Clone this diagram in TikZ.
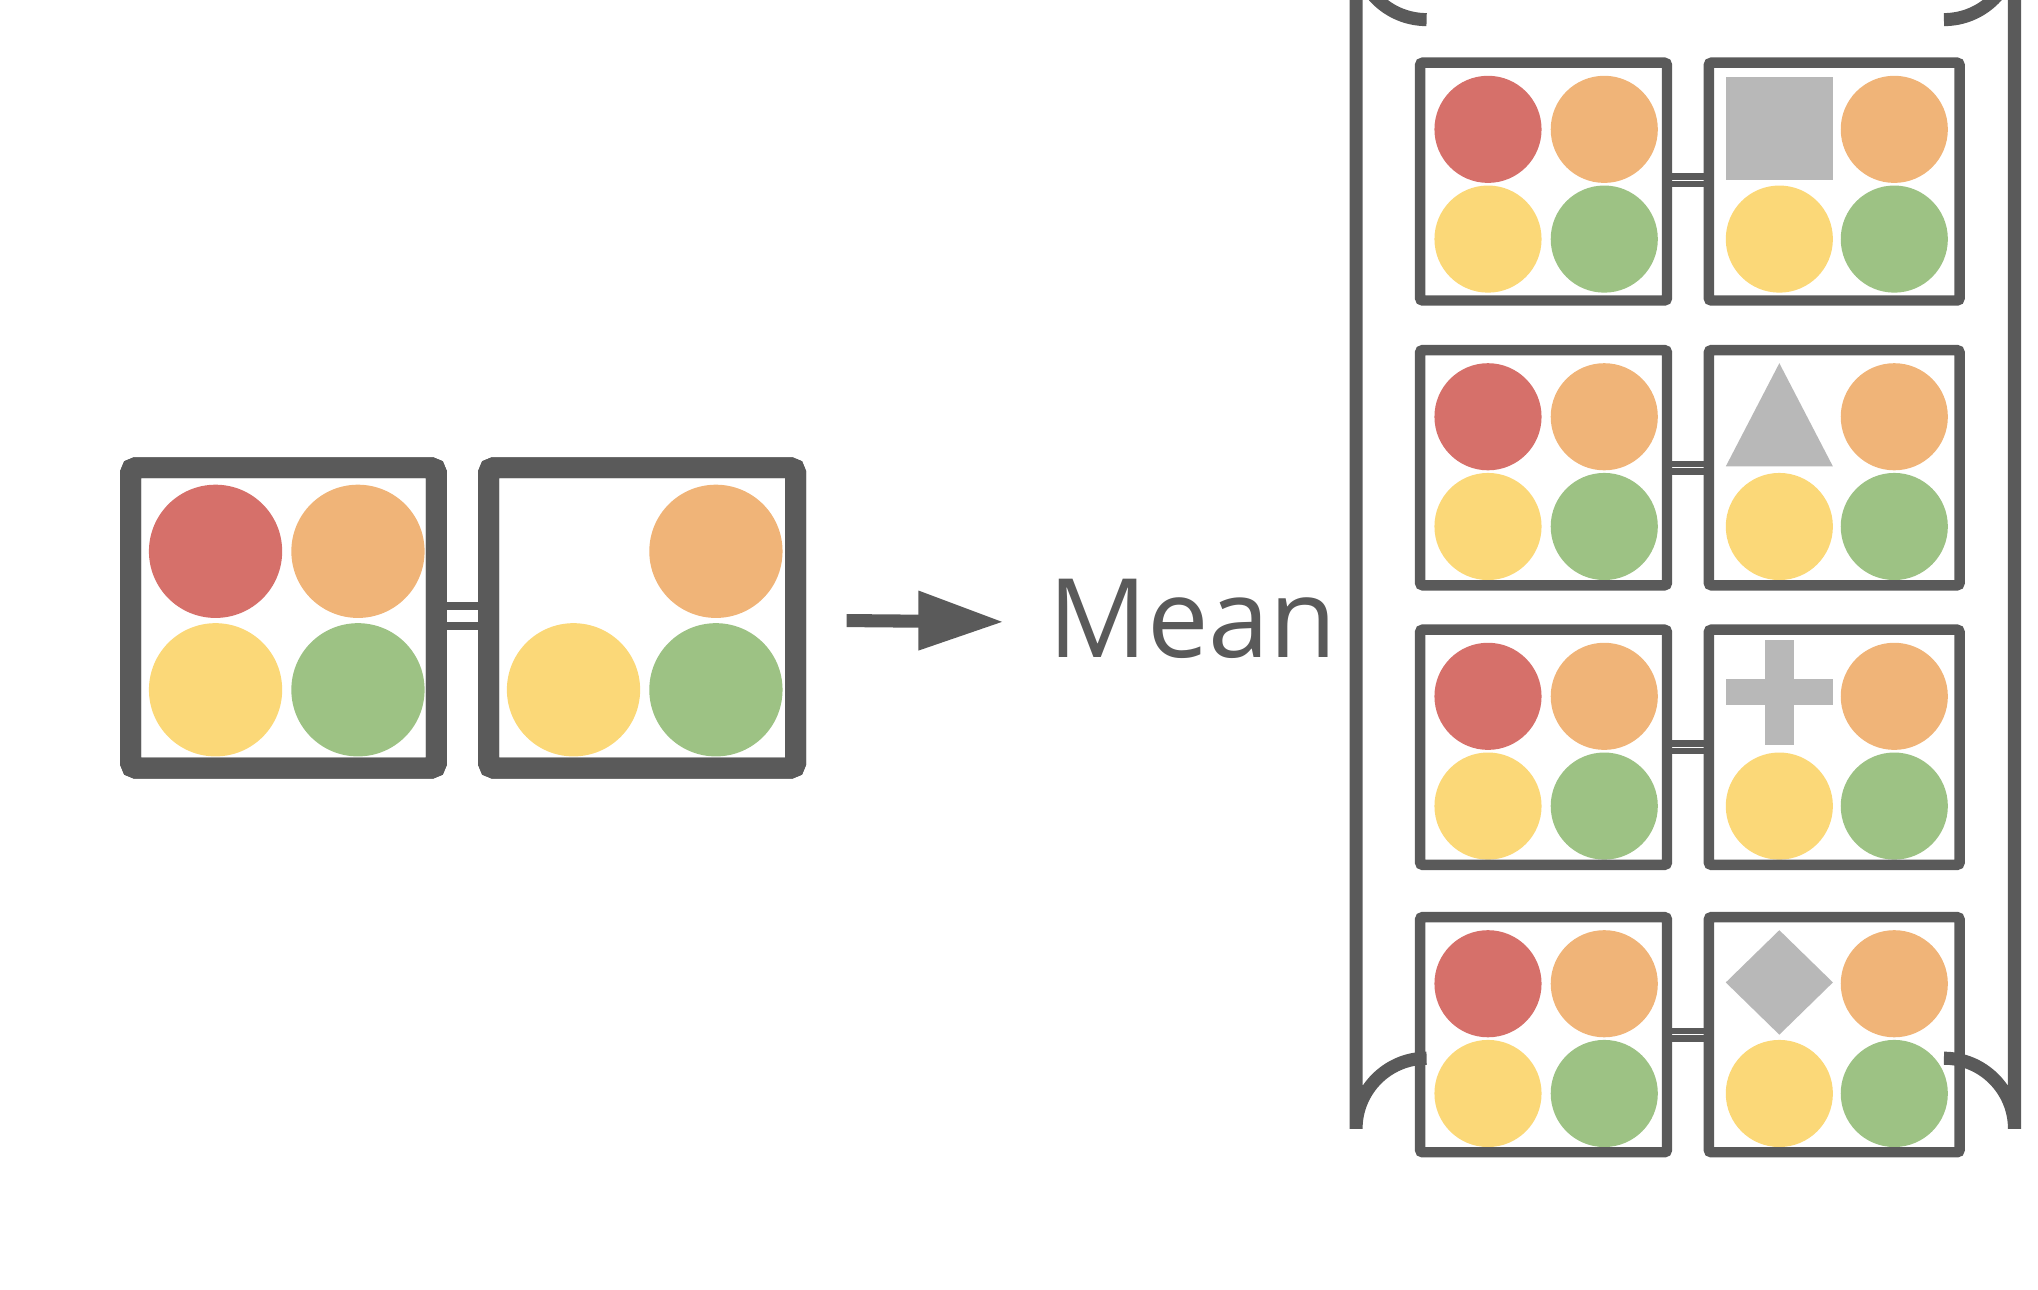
\documentclass[tikz,border=0pt]{standalone}
\usepackage{fontspec}
\setmainfont{Open Sans}
\usepackage{tikz}
\definecolor{cred}{HTML}{D6706A}
\definecolor{corange}{HTML}{F0B478}
\definecolor{cyellow}{HTML}{FBD878}
\definecolor{cgreen}{HTML}{9DC284}
\definecolor{cframe}{HTML}{5A5A5A}
\definecolor{cshape}{HTML}{B8B8B8}
\tikzset{
  bigbox/.style={draw=cframe,line width=8pt,rounded corners=2pt},
  smallbox/.style={draw=cframe,line width=4pt,rounded corners=1pt},
  missing/.style={fill=cshape}
}
\newcommand{\balls}[3]{% x of left column, y of top row, radius
  \fill[cred] (#1,#2) circle (#3);
  \fill[corange] (#1+89,#2) circle (#3);
  \fill[cyellow] (#1,#2+84) circle (#3);
  \fill[cgreen] (#1+89,#2+84) circle (#3);
}
\begin{document}
\begin{tikzpicture}[x=0.5pt,y=-0.5pt]
    \useasboundingbox (0,0) rectangle (1560,987);
    % input pair
    \fill[cred] (165,422) circle (51);
    \fill[corange] (274,422) circle (51);
    \fill[cyellow] (165,528) circle (51);
    \fill[cgreen] (274,528) circle (51);
    \fill[corange] (548,422) circle (51);
    \fill[cyellow] (439,528) circle (51);
    \fill[cgreen] (548,528) circle (51);
    \draw[bigbox] (100,358) rectangle (334,588);
    \draw[bigbox] (374,358) rectangle (609,588);
    \draw[draw=cframe,line width=3pt] (338,464) rectangle (370,479);
    \draw[bigbox] (100,358) rectangle (334,588);
    \draw[bigbox] (374,358) rectangle (609,588);
    % arrow
    \coordinate (tail) at (648,475);
    \coordinate (tip) at (767,476);
    \draw[cframe,line width=5pt] (tail) -- (705,475.5);
    \fill[cframe] (703,452) -- (tip) -- (703,498) -- cycle;
    \node[anchor=base west,inner sep=0,text=cframe,font=\fontsize{42}{42}\selectfont] (mean) at (802,503) {Mean};
    % brackets
    \draw[cframe,line width=5pt] (1092,15) arc(90:180:54) -- (1038,864) arc(180:270:54);
    \draw[cframe,line width=5pt] (1488,15) arc(90:0:54) -- (1542,864) arc(0:-90:54);
    % perturbed pairs
    \foreach \t/\b in {48/230,268/448,482/662,702/882}{
      \pgfmathsetmacro{\yc}{\t+51}
      \balls{1139}{\yc}{41}
      \fill[corange] (1450,\yc) circle (41);
      \fill[cyellow] (1362,\yc+84) circle (41);
      \fill[cgreen] (1450,\yc+84) circle (41);
      \draw[draw=cframe,line width=2.5pt] (1276,\t+87) rectangle (1308,\t+93);
      \draw[smallbox] (1087,\t) rectangle (1276,\b);
      \draw[smallbox] (1308,\t) rectangle (1500,\b);
    }
    \fill[missing] (1321,59) rectangle (1403,138);
    \fill[missing] (1362,278) -- (1403,357) -- (1321,357) -- cycle;
    \fill[missing] (1351,490) rectangle (1373,570);
    \fill[missing] (1321,520) rectangle (1403,540);
    \fill[missing] (1362,712) -- (1403,752) -- (1362,792) -- (1321,752) -- cycle;
\end{tikzpicture}
\end{document}
